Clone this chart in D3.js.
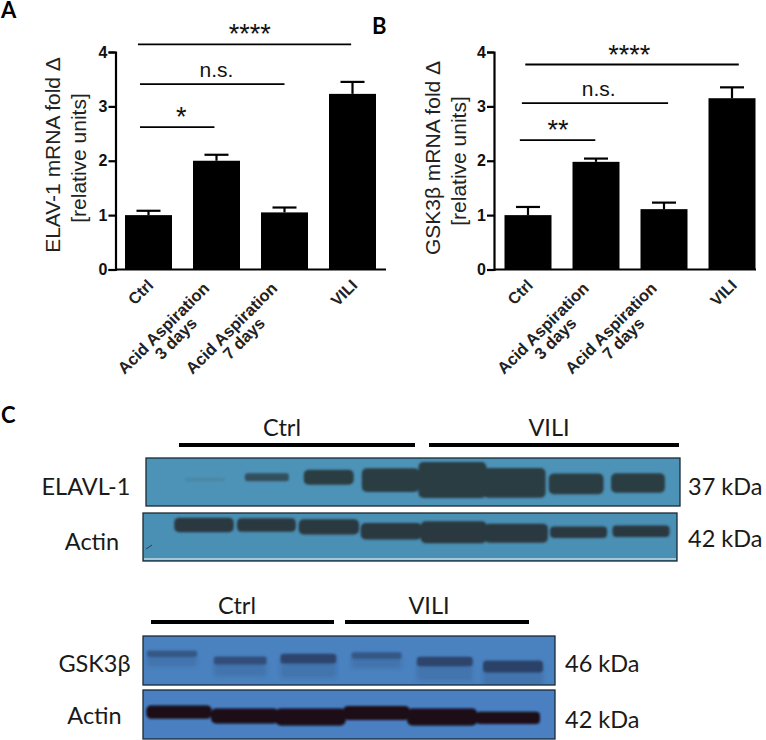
<!DOCTYPE html>
<html><head><meta charset="utf-8">
<script src="https://cdnjs.cloudflare.com/ajax/libs/d3/7.8.5/d3.min.js"></script>
<style>html,body{margin:0;padding:0;background:#fff}svg{display:block}</style></head>
<body><svg id="c" width="766" height="740"></svg>
<script>
const categories=["Ctrl","Acid Aspiration|3 days","Acid Aspiration|7 days","VILI"];
const elavValues=[1.0,2.0,1.05,3.23];
const elavErrors=[0.08,0.11,0.09,0.22];
const gskValues=[1.0,1.98,1.11,3.15];
const gskErrors=[0.15,0.06,0.12,0.20];
const yTicks=[0,1,2,3,4];
const elavSig=[{from:-0.155,to:2.98,level:4.14,label:"****",at:1.49},{from:-0.125,to:2.0,level:3.41,label:"n.s.",at:1.0},{from:-0.125,to:0.97,level:2.62,label:"*",at:0.48}];
const gskSig=[{from:-0.04,to:3.1,level:3.77,label:"****",at:1.49},{from:-0.09,to:2.06,level:3.06,label:"n.s.",at:1.04},{from:-0.12,to:0.99,level:2.38,label:"**",at:0.44}];
// blots: relative signal and migration per lane
const elavlSignal=[0.03,0.2,0.4,0.65,1,0.82,0.56,0.53];
const elavlMigration=[0.45,0.40,0.40,0.46,0.46,0.52,0.54,0.52];
const actin1Signal=[0.64,0.6,0.68,0.73,1,0.86,0.5,0.5];
const actin1Migration=[0.25,0.25,0.29,0.38,0.40,0.42,0.40,0.38];
const gskSignal=[0.5,0.64,0.79,0.5,0.79,1];
const gskMigration=[0.36,0.50,0.46,0.40,0.52,0.62];
const actin2Signal=[0.76,0.88,1,0.82,1,0.7];
const actin2Migration=[0.45,0.53,0.55,0.47,0.55,0.57];

const svg=d3.select("#c");
const defs=svg.append("defs");
defs.append("filter").attr("id","soft").attr("x","-20%").attr("y","-60%").attr("width","140%").attr("height","220%")
  .append("feGaussianBlur").attr("stdDeviation",1.1);
defs.append("filter").attr("id","softer").attr("x","-20%").attr("y","-60%").attr("width","140%").attr("height","220%")
  .append("feGaussianBlur").attr("stdDeviation",2.2);
const ARIAL="'Liberation Sans',Arial,sans-serif", CAL="Lato,'Open Sans',sans-serif";

function barPanel(o){
  const g=svg.append("g");
  const y=d3.scaleLinear().domain([0,4]).range([o.y0,52]);
  const x=d3.scaleLinear().domain([0,3]).range([o.c0,o.c0+204]);
  const bw=47;
  const ax=g.append("g").attr("transform",`translate(${o.axisX},0)`).call(d3.axisLeft(y).tickValues(yTicks).tickSize(7).tickPadding(1).tickFormat(d3.format("d")));
  ax.selectAll("path,line").attr("stroke","#000").attr("stroke-width",2.2);
  ax.selectAll("text").attr("font-family",ARIAL).attr("font-weight","bold").attr("font-size",16).attr("fill","#111");
  g.append("line").attr("x1",o.axisX).attr("x2",o.axisEnd).attr("y1",y(0)).attr("y2",y(0)).attr("stroke","#000").attr("stroke-width",2.2);
  categories.forEach((c,i)=>{
    g.append("rect").attr("x",x(i)-bw/2).attr("width",bw).attr("y",y(o.values[i])).attr("height",y(0)-y(o.values[i])).attr("fill","#000");
    const top=y(o.values[i]+o.errors[i]);
    g.append("line").attr("x1",x(i)).attr("x2",x(i)).attr("y1",top).attr("y2",y(o.values[i])).attr("stroke","#000").attr("stroke-width",2.2);
    g.append("line").attr("x1",x(i)-12).attr("x2",x(i)+12).attr("y1",top).attr("y2",top).attr("stroke","#000").attr("stroke-width",2.2);
    const lines=c.split("|");
    const multi=lines.length>1;
    const t=g.append("g").attr("transform",`translate(${x(i)+(multi?-14:-2)},${y(0)+(multi?12:9)}) rotate(-45)`);
    lines.forEach((l,k)=>{
      t.append("text").text(l).attr("text-anchor",k==1?"middle":"end").attr("x",k==1?-59:0).attr("y",11+k*16)
       .attr("font-family",ARIAL).attr("font-weight","bold").attr("font-size",multi?16.5:16).attr("fill","#222");
    });
  });
  o.sig.forEach(s=>{
    g.append("line").attr("x1",x(s.from)).attr("x2",x(s.to)).attr("y1",y(s.level)).attr("y2",y(s.level)).attr("stroke","#000").attr("stroke-width",1.8);
    const star=s.label!="n.s.";
    g.append("text").text(s.label).attr("text-anchor","middle").attr("x",x(s.at))
      .attr("y",y(s.level)+(star?-1:-7)).attr("font-family",ARIAL).attr("font-size",star?27:21).attr("fill","#111");
  });
  const tt=g.append("g").attr("transform",`translate(${o.titleX},${o.titleY}) rotate(-90)`);
  tt.append("text").text(o.title).attr("text-anchor","middle").attr("font-family",ARIAL).attr("font-size",21).attr("fill","#222");
  tt.append("text").text("[relative units]").attr("text-anchor","middle").attr("y",26).attr("x",-3).attr("font-family",ARIAL).attr("font-size",21).attr("fill","#222");
}
barPanel({y0:269.5,axisX:115.5,axisEnd:386,c0:148.5,values:elavValues,errors:elavErrors,sig:elavSig,title:"ELAV-1 mRNA fold Δ",titleX:60,titleY:155});
barPanel({y0:269.5,axisX:494,axisEnd:756,c0:528,values:gskValues,errors:gskErrors,sig:gskSig,title:"GSK3β mRNA fold Δ",titleX:440,titleY:158});

function blot(o){
  const g=svg.append("g");
  const lanes=d3.scalePoint().domain(d3.range(o.signal.length)).range(o.laneRange);
  const my=d3.scaleLinear().domain([0,1]).range([o.top,o.bottom]);
  const h=d3.scaleLinear().domain([0,1]).range([1,o.maxH]);
  const w=d3.scaleLinear().domain([0,1]).range([o.minW,o.maxW]);
  g.append("rect").attr("x",o.left).attr("y",o.top).attr("width",o.right-o.left).attr("height",o.bottom-o.top).attr("fill",o.bg).attr("stroke","#1a2a34").attr("stroke-width",1.3);
  const clipId="clip"+o.id;
  defs.append("clipPath").attr("id",clipId).append("rect").attr("x",o.left).attr("y",o.top).attr("width",o.right-o.left).attr("height",o.bottom-o.top);
  const clip=g.append("g").attr("clip-path",`url(#${clipId})`);
  if(o.smear){
    clip.append("g").attr("filter","url(#softer)").selectAll("rect").data(o.signal).join("rect")
      .attr("x",(d,i)=>lanes(i)-w(d)/2).attr("width",d=>w(d))
      .attr("y",(d,i)=>my(o.migration[i])).attr("height",d=>h(d)*o.smear)
      .attr("fill",o.band).attr("opacity",0.22);
  }
  const b=clip.append("g").attr("filter","url(#soft)");
  b.selectAll("rect").data(o.signal).join("rect")
    .attr("x",(d,i)=>lanes(i)-w(d)/2).attr("width",d=>w(d))
    .attr("y",(d,i)=>my(o.migration[i])-h(d)/2).attr("height",d=>h(d))
    .attr("rx",d=>Math.min(h(d)/3,5)).attr("fill",o.band).attr("opacity",d=>Math.min(1,d*o.opacityGain+0.08));
  return g;
}
blot({id:1,left:146,right:680,top:458,bottom:506,bg:"#4d93b8",band:"#2c3d43",signal:elavlSignal,migration:elavlMigration,laneRange:[205,638],minW:38,maxW:68,maxH:36,opacityGain:3.5});
const a1=blot({id:2,left:143,right:677,top:513,bottom:561,bg:"#4a8fb4",band:"#2b393f",signal:actin1Signal,migration:actin1Migration,laneRange:[204,641],minW:48,maxW:66,maxH:22,opacityGain:3});
a1.append("line").attr("x1",144).attr("x2",676).attr("y1",559).attr("y2",559).attr("stroke","#fff").attr("stroke-width",1);
a1.append("line").attr("x1",146).attr("x2",152).attr("y1",549).attr("y2",545).attr("stroke","#26404e").attr("stroke-width",1);
blot({id:3,left:143,right:555,top:636,bottom:685,bg:"#4a82c0",band:"#2a4268",signal:gskSignal,migration:gskMigration,laneRange:[172,513],minW:40,maxW:60,maxH:12,opacityGain:1.1,smear:2});
blot({id:4,left:143,right:555,top:690,bottom:739,bg:"#4a80c2",band:"#1c0a14",signal:actin2Signal,migration:actin2Migration,laneRange:[179,508],minW:50,maxW:70,maxH:17,opacityGain:3});

function calText(s,x,y,anchor,size){
  svg.append("text").text(s).attr("x",x).attr("y",y).attr("text-anchor",anchor).attr("font-family",CAL).attr("font-size",size).attr("fill","#1a1a1a");
}
[["Ctrl",282,436],["VILI",549,436],["Ctrl",237,614],["VILI",429,614]].forEach(d=>calText(d[0],d[1],d[2],"middle",23.5));
[["ELAVL-1",86,495],["Actin",92,550],["GSK3β",94.5,672],["Actin",94.5,724]].forEach(d=>calText(d[0],d[1],d[2],"middle",23.5));
[["37 kDa",688,495],["42 kDa",688,547],["46 kDa",565,672],["42 kDa",565,728]].forEach(d=>calText(d[0],d[1],d[2],"start",23.5));
[[179,415,445],[429,679,445],[151,334,622],[345,529,622]].forEach(d=>svg.append("line").attr("x1",d[0]).attr("x2",d[1]).attr("y1",d[2]).attr("y2",d[2]).attr("stroke","#000").attr("stroke-width",4));
[["A",1,18],["B",372,34],["C",1,423]].forEach(d=>svg.append("text").text(d[0]).attr("x",d[1]).attr("y",d[2]).attr("font-family",CAL).attr("font-weight","bold").attr("font-size",22).attr("fill","#000"));
</script></body></html>
